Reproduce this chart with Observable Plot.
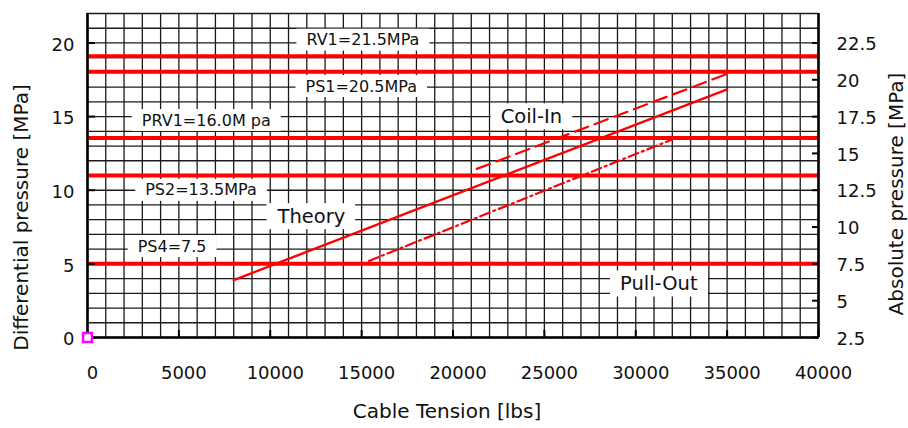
<!DOCTYPE html>
<html>
<head>
<meta charset="utf-8">
<script src="https://cdn.jsdelivr.net/npm/d3@7"></script>
<script src="https://cdn.jsdelivr.net/npm/@observablehq/plot@0.6"></script>
<style>
  body { margin: 0; background: #fff; }
  svg { display: block; }
</style>
</head>
<body>
<script>
// ---- data ----
const xTicks = [0, 5000, 10000, 15000, 20000, 25000, 30000, 35000, 40000];
const yTicksDiff = [0, 5, 10, 15, 20];
const yTicksAbs = [2.5, 5, 7.5, 10, 12.5, 15, 17.5, 20, 22.5];
const absOffset = 2.5;               // absolute = differential + 2.5 MPa
const xDomain = [0, 40000];
const yDomain = [0, 22];
const xGridStep = 1000;
const yGridStep = 1;

const levelValues = [19.1, 18.05, 13.55, 11.0, 5.0];   // RV1, PS1, PRV1, PS2, PS4 (differential)

const theoryX = [8000, 35000];
const theoryY = [3.9, 16.85];
const coilInX = [21300, 35000];
const coilInY = [11.45, 17.9];
const pullOutX = [15400, 32000];
const pullOutY = [5.2, 13.45];

const eqLabels = ["RV1=21.5MPa", "PS1=20.5MPa", "PRV1=16.0M pa", "PS2=13.5MPa", "PS4=7.5"];
const eqLabelX = [15070, 14980, 6500, 6210, 4630];
const eqLabelY = [20.2, 17.05, 14.74, 10.0, 6.18];
const wordLabels = ["Theory", "Coil-In", "Pull-Out"];
const wordLabelX = [12250, 24290, 31260];
const wordLabelY = [8.22, 15.0, 3.65];
const originX = [0];
const originY = [0];

// ---- build tables ----
const zip = (xs, ys) => xs.map((x, i) => ({x, y: ys[i]}));
const theory = zip(theoryX, theoryY);
const coilIn = zip(coilInX, coilInY);
const pullOut = zip(pullOutX, pullOutY);
const eqTable = eqLabels.map((t, i) => ({t, x: eqLabelX[i], y: eqLabelY[i]}));
const wordTable = wordLabels.map((t, i) => ({t, x: wordLabelX[i], y: wordLabelY[i]}));
const origin = zip(originX, originY);
const xGrid = d3.range(xDomain[0], xDomain[1] + 1, xGridStep);
const yGrid = d3.range(yDomain[0], yDomain[1] + 0.001, yGridStep);

const RED = "#ff0000";
const GRID = "#1a1a1a";

const chart = Plot.plot({
  width: 908,
  height: 428,
  marginLeft: 87,
  marginRight: 90,
  marginTop: 13,
  marginBottom: 91,
  x: {domain: xDomain, label: null},
  y: {domain: yDomain, label: null},
  style: {fontFamily: "DejaVu Sans", fontSize: "18px", color: "#111", background: "white"},
  marks: [
    Plot.gridX(xGrid, {stroke: GRID, strokeOpacity: 1, strokeWidth: 1.3}),
    Plot.gridY(yGrid, {stroke: GRID, strokeOpacity: 1, strokeWidth: 1.3}),
    Plot.ruleY(levelValues, {stroke: RED, strokeWidth: 4}),
    Plot.line(theory, {x: "x", y: "y", stroke: RED, strokeWidth: 2.4}),
    Plot.line(coilIn, {x: "x", y: "y", stroke: RED, strokeWidth: 2.2, strokeDasharray: "14,7"}),
    Plot.line(pullOut, {x: "x", y: "y", stroke: RED, strokeWidth: 2.2, strokeDasharray: "10,4,2,4"}),
    // frame borders
    Plot.ruleX(xDomain, {stroke: "#000", strokeWidth: 2.6}),
    Plot.ruleY([yDomain[0]], {stroke: "#000", strokeWidth: 2.6}),
    // inward tick marks
    Plot.axisX(xTicks, {anchor: "bottom", label: null, tickSize: 7, dy: -7, tickFormat: () => "", strokeWidth: 2, stroke: "#000"}),
    Plot.axisY(yTicksDiff, {anchor: "left", label: null, tickSize: 8, dx: 8, tickFormat: () => "", strokeWidth: 2, stroke: "#000"}),
    Plot.axisY(yTicksAbs.map(v => v - absOffset), {anchor: "right", label: null, tickSize: 7, dx: -7, tickFormat: () => "", strokeWidth: 2, stroke: "#000"}),
    // tick labels
    Plot.axisX(xTicks, {anchor: "bottom", label: null, tickSize: 0, tickPadding: 29, dx: 5, fontSize: 18, tickFormat: d => String(d)}),
    Plot.axisY(yTicksDiff, {anchor: "left", label: null, tickSize: 0, tickPadding: 13, dy: 2, fontSize: 18, tickFormat: d => String(d)}),
    Plot.axisY(yTicksAbs.map(v => v - absOffset), {anchor: "right", label: null, tickSize: 0, tickPadding: 18, dy: 1.5, fontSize: 18, tickFormat: d => String(d + absOffset)}),
    // axis titles
    Plot.text(["Cable Tension [lbs]"], {frameAnchor: "bottom", textAnchor: "middle", dx: -6, dy: 80, fontSize: 20, fill: "#111"}),
    Plot.text(["Differential pressure [MPa]"], {frameAnchor: "left", textAnchor: "middle", lineAnchor: "middle", rotate: -90, dx: -66, dy: 42, fontSize: 20, fill: "#111"}),
    Plot.text(["Absolute pressure [MPa]"], {frameAnchor: "right", textAnchor: "middle", lineAnchor: "middle", rotate: -90, dx: 78, dy: 18.5, fontSize: 20, fill: "#111"}),
    // annotations
    Plot.text(eqTable, {x: "x", y: "y", text: "t", fontSize: 16, fill: "#111"}),
    Plot.text(wordTable, {x: "x", y: "y", text: "t", fontSize: 19.5, fill: "#111"}),
    // origin marker
    Plot.dot(origin, {x: "x", y: "y", symbol: "square", r: 5, stroke: "#ff00ff", strokeWidth: 2.5, fill: "white"})
  ]
});

document.body.append(chart);

// white boxes behind the annotation labels
const annoSet = new Set([...eqLabels, ...wordLabels]);
for (const t of Array.from(chart.querySelectorAll("text"))) {
  if (!annoSet.has(t.textContent)) continue;
  const b = t.getBBox();
  const r = document.createElementNS("http://www.w3.org/2000/svg", "rect");
  r.setAttribute("x", b.x - 10);
  r.setAttribute("y", b.y - 1.5);
  r.setAttribute("width", b.width + 20);
  r.setAttribute("height", b.height + 3);
  r.setAttribute("fill", "white");
  r.setAttribute("stroke", "none");
  const tr = t.getAttribute("transform");
  if (tr) r.setAttribute("transform", tr);
  t.parentNode.insertBefore(r, t);
}
</script>
</body>
</html>
